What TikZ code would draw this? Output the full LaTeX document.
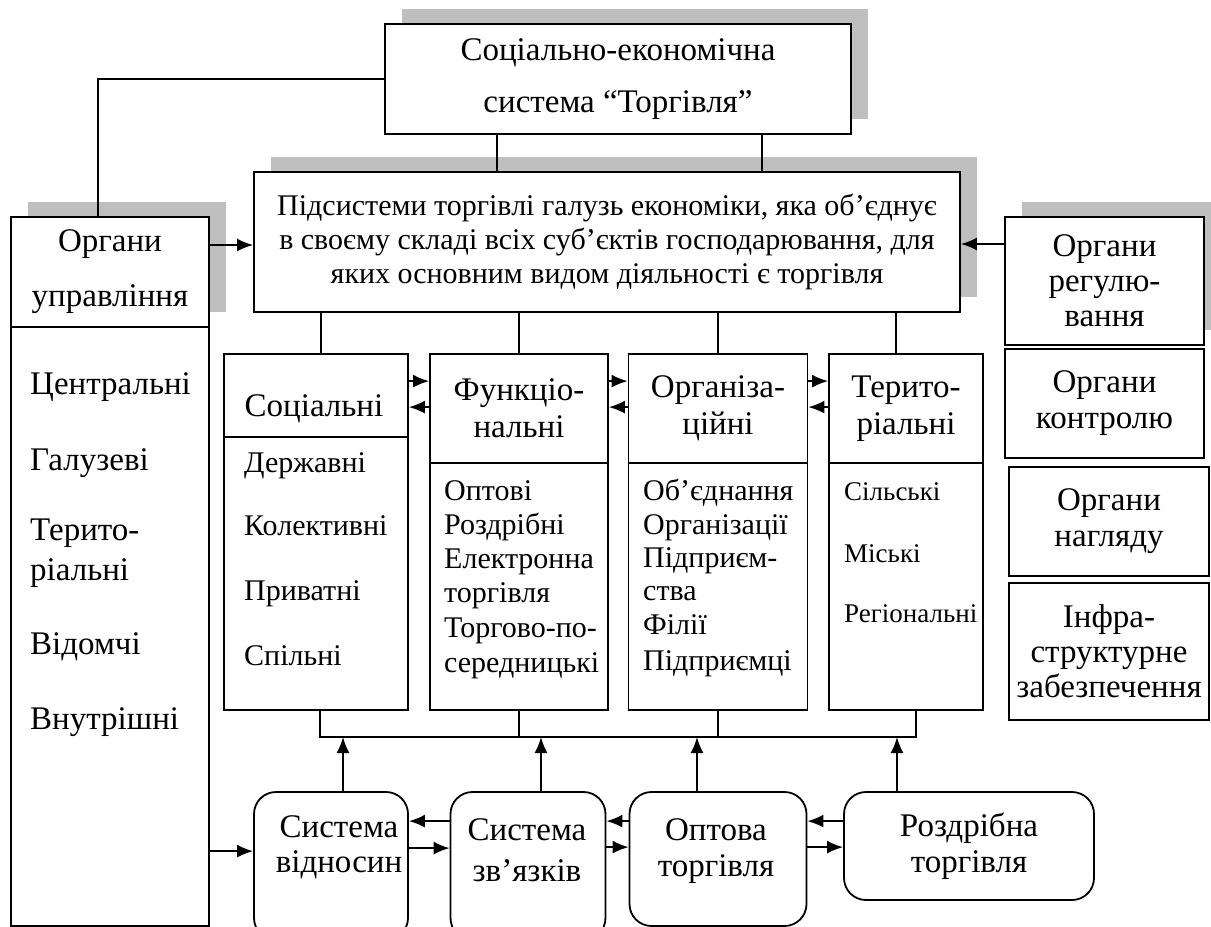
\documentclass[tikz,border=0pt]{standalone}
\usepackage{fontspec}
\setmainfont{Liberation Serif}
\usetikzlibrary{arrows.meta,shadows}

\begin{document}
\begin{tikzpicture} [
                x=1pt, y=-1pt,
                line/.style = {draw,line width=1.8pt},
                arrow/.style = {draw,line width=1.8pt,-{Latex[length=16pt,width=13pt]}},
                box/.style = {draw,line width=1.8pt,fill=white,inner sep=0pt,align=center},
                shbox/.style = {box,drop shadow={shadow xshift=17pt,shadow yshift=15pt,fill=black!25,opacity=1}},
                rbox/.style = {box,rounded corners=22pt},
                head/.style = {align=center,font=\fontsize{33}{37}\selectfont},
                item/.style = {anchor=west,inner sep=0pt,text height=20pt,text depth=6pt,font=\fontsize{30}{34}\selectfont},
                litem/.style = {item,text height=22pt,text depth=7pt,font=\fontsize{33}{36}\selectfont},
            ]
            \useasboundingbox (0,0) rectangle (1211,927);
            % top of the scheme
            \node[shbox,minimum width=466pt,minimum height=110pt,font=\fontsize{33}{52}\selectfont] (sys) at (618,79) {Соціально-економічна\\система “Торгівля”};
            \node[shbox,minimum width=706pt,minimum height=140pt,font=\fontsize{30}{34}\selectfont] (sub) at (607,242)
                {Підсистеми торгівлі галузь економіки, яка об’єднує\\в своєму складі всіх суб’єктів господарювання, для\\яких основним видом діяльності є торгівля};
            % left column
            \node[shbox,minimum width=198pt,minimum height=110pt,font=\fontsize{33}{55}\selectfont] (upr) at (110,272) {Органи\\управління};
            \node[box,minimum width=198pt,minimum height=599pt] (uprl) at (110,626.5) {};
            \foreach \txt/\y [count=\i] in {
            Центральні/387, Галузеві/463, Терито-/533, ріальні/573, Відомчі/647, Внутрішні/722}
                \node[litem] (upr\i) at (30,\y) {\txt};
            % right column
            \node[shbox,minimum width=199pt,minimum height=128pt,font=\fontsize{33}{35}\selectfont] (reg) at (1104.5,281) {Органи\\регулю-\\вання};
            \node[box,minimum width=199pt,minimum height=109pt,font=\fontsize{33}{36}\selectfont] (kon) at (1104.5,403.5) {Органи\\контролю};
            \node[box,minimum width=200pt,minimum height=109pt,font=\fontsize{33}{36}\selectfont] (nag) at (1109,521.5) {Органи\\нагляду};
            \node[box,minimum width=200pt,minimum height=137pt,font=\fontsize{33}{35}\selectfont] (inf) at (1109,651.5) {Інфра-\\структурне\\забезпечення};
            % four kinds of subsystems
            \node[box,minimum width=184pt,minimum height=83pt] (soc) at (316,395.5) {};
            \node[head] (soct) at (314,409) {Соціальні};
            \node[box,head,minimum width=178pt,minimum height=109pt] (fun) at (519,408.5) {Функціо-\\нальні};
            \node[box,head,minimum width=179pt,minimum height=109pt] (orz) at (718,408.5) {Організа-\\ційні};
            \node[box,head,minimum width=154pt,minimum height=109pt] (ter) at (906,408.5) {Терито-\\ріальні};
            \node[box,minimum width=184pt,minimum height=273pt] (socl) at (316,573.5) {};
            \node[box,minimum width=178pt,minimum height=247pt] (funl) at (519,586.5) {};
            \node[box,minimum width=179pt,minimum height=247pt] (orzl) at (718,586.5) {};
            \node[box,minimum width=154pt,minimum height=247pt] (terl) at (906,586.5) {};
            \foreach \txt/\y [count=\i] in {
            Державні/465, Колективні/528, Приватні/593, Спільні/658}
                \node[item] (soc\i) at (244,\y) {\txt};
            \foreach \txt/\y [count=\i] in {
            Оптові/493, Роздрібні/527, Електронна/561, торгівля/595, Торгово-по-/630, середницькі/665}
                \node[item] (fun\i) at (444,\y) {\txt};
            \foreach \txt/\y [count=\i] in {
            Об’єднання/493, Організації/527, Підприєм-/560, ства/593, Філії/627, Підприємці/663}
                \node[item] (orz\i) at (643,\y) {\txt};
            \foreach \txt/\y [count=\i] in {
            Сільські/493, Міські/555, Регіональні/615}
                \node[item,font=\fontsize{27}{30}\selectfont] (ter\i) at (844,\y) {\txt};
            % bottom row
            \node[rbox,minimum width=154pt,minimum height=148pt] (rel) at (331,866) {};
            \node[head,font=\fontsize{33}{35}\selectfont] (relt) at (339,847) {Система\\відносин};
            \node[rbox,minimum width=155pt,minimum height=148pt] (zv) at (528,866) {};
            \node[head,font=\fontsize{33}{41}\selectfont] (zvt) at (527,850) {Система\\зв’язків};
            \node[rbox,minimum width=177pt,minimum height=134pt] (opt) at (718,859) {};
            \node[head,font=\fontsize{33}{36}\selectfont] (optt) at (716,851) {Оптова\\торгівля};
            \node[rbox,minimum width=250pt,minimum height=108pt,font=\fontsize{33}{36}\selectfont] (rozd) at (969,846) {Роздрібна\\торгівля};
            \coordinate (bus) at (0,737);
            % connectors
            \draw[line] (sys.west) -| ([xshift=-12pt]upr.north);
            \foreach \dx in {-121,144}
                \draw[line] ([xshift=\dx pt]sys.south) -- ([xshift=\dx pt]sys.south |- sub.north);
            \draw[arrow] ([yshift=27pt]upr.east) -- ([yshift=27pt]upr.east -| sub.west);
            \draw[arrow] ([yshift=37pt]reg.west) -- ([yshift=37pt]reg.west -| sub.east);
            \foreach \col/\dx in {soc/5, fun/0, orz/0, ter/-10}
                \draw[line] ([xshift=\dx pt]\col.north) -- ([xshift=\dx pt]\col.north |- sub.south);
            \foreach \a/\b in {soc/fun, fun/orz, orz/ter} {
                \draw[arrow] ([yshift=-28pt]\a.north east) -- ([yshift=-28pt]\b.north west);
                \draw[arrow] ([yshift=-54pt]\b.north west) -- ([yshift=-54pt]\a.north east);
            }
            \draw[line] ([xshift=4pt]socl.south) |- ([xshift=10pt]terl.south |- bus) -- ([xshift=10pt]terl.south);
            \foreach \col in {funl, orzl}
                \draw[line] (\col.south) -- (\col.south |- bus);
            \foreach \b/\dx in {rel/12, zv/13, opt/-21, rozd/-72}
                \draw[arrow] ([xshift=\dx pt]\b.north) -- ([xshift=\dx pt]\b.north |- bus);
            \draw[arrow] ([yshift=-60pt]rel.north west -| uprl.east) -- ([yshift=-60pt]rel.north west);
            \draw[arrow] ([yshift=-30pt]zv.north west) -- ([yshift=-30pt]rel.north east);
            \draw[arrow] ([yshift=-57pt]rel.north east) -- ([yshift=-57pt]zv.north west);
            \draw[arrow] ([yshift=-30pt]opt.north west) -- ([yshift=-30pt]zv.north east);
            \draw[arrow] ([yshift=-56pt]zv.north east) -- ([yshift=-56pt]opt.north west);
            \draw[arrow] ([yshift=-30pt]opt.north east -| rozd.west) -- ([yshift=-30pt]opt.north east);
            \draw[arrow] ([yshift=-56pt]opt.north east) -- ([yshift=-56pt]opt.north east -| rozd.west);
        \end{tikzpicture}
\end{document}
